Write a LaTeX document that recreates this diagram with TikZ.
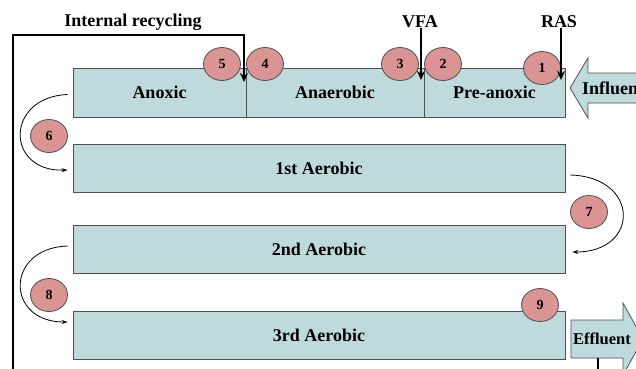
\documentclass[tikz,border=0pt]{standalone}
\usepackage{fontspec}
\setmainfont{Liberation Serif}
\usetikzlibrary{shapes.geometric,arrows.meta}
\definecolor{boxfill}{RGB}{190,218,221}
\definecolor{numfill}{RGB}{218,148,148}
\definecolor{edge}{RGB}{80,80,80}
\begin{document}
\begin{tikzpicture}[x=1pt,y=-1pt,
 tank/.style={draw=edge,line width=0.8pt,fill=boxfill,minimum height=49pt,inner sep=0pt,font=\fontsize{18}{21}\selectfont\bfseries},
 num/.style={ellipse,draw=edge,line width=0.8pt,fill=numfill,minimum width=37pt,minimum height=33pt,inner sep=0pt,font=\fontsize{14}{16}\selectfont\bfseries},
 lbl/.style={font=\fontsize{18}{21}\selectfont\bfseries,inner sep=0pt},
 bigarrow/.style={draw=edge,fill=boxfill,line width=0.8pt},
 feed/.style={-{Stealth[length=9pt,width=8pt]},line width=1.8pt},
 turn/.style={-{Stealth[length=6pt,width=4pt]},line width=0.8pt}]
\useasboundingbox (0,0) rectangle (636,368);
\clip (0,0) rectangle (636,368);
\fill[white] (0,0) rectangle (636,368);
% tanks
\node[tank,minimum width=173pt] (anox) at (159.5,92.5) {Anoxic};
\node[tank,minimum width=178pt] (anae) at (335,92.5) {Anaerobic};
\node[tank,minimum width=141pt] (pre) at (494.5,92.5) {Pre-anoxic};
\node[tank,minimum width=492pt,minimum height=48pt] (a1) at (319,168) {1st Aerobic};
\node[tank,minimum width=492pt,minimum height=48pt] (a2) at (319,249) {2nd Aerobic};
\node[tank,minimum width=492pt,minimum height=48pt] (a3) at (319,335) {3rd Aerobic};
% influent / effluent arrows
\draw[bigarrow] (570,88) -- (588,58) -- (588,73) -- (645,73) -- (645,103) -- (588,103) -- (588,118) -- cycle;
\node[lbl,anchor=west] (infl) at (582,88) {Influent};
\draw[bigarrow] (571,320) -- (623,320) -- (623,303) -- (643,339) -- (623,375) -- (623,358) -- (571,358) -- cycle;
\node[lbl,font=\fontsize{16.5}{19}\selectfont\bfseries] (effl) at (602,339) {Effluent};
\coordinate (effs) at (598,358);
\coordinate (effe) at (598,372);
\draw[line width=1.5pt] (effs) -- (effe);
% numbered points
\node[num] (n1) at (542,68) {1};
\node[num] (n2) at (443,64) {2};
\node[num] (n3) at (400,64) {3};
\node[num] (n4) at (265,64) {4};
\node[num] (n5) at (222,64) {5};
\node[num] (n6) at (49,136) {6};
\node[num] (n7) at (589,212) {7};
\node[num] (n8) at (49,295) {8};
\node[num] (n9) at (540,305) {9};
% top labels and feeds
\node[lbl] (ir) at (133,22) {Internal recycling};
\node[lbl] (vfa) at (420,22) {VFA};
\node[lbl] (ras) at (559,22) {RAS};
\coordinate (vfatip) at (421,80);
\coordinate (rastip) at (561,80);
\draw[feed] (vfa.south -| vfatip) -- (vfatip);
\draw[feed] (ras.south -| rastip) -- (rastip);
\coordinate (irA) at (13,372);
\coordinate (irB) at (13,35);
\coordinate (irC) at (244,35);
\coordinate (irtip) at (244,82);
\draw[feed] (irA) -- (irB) -- (irC) -- (irtip);
% turning flows
\draw[turn] ([shift={(-5,2)}]anox.west) .. controls (5,97) and (5,172) .. ([shift={(-5,2)}]a1.west);
\draw[turn] ([shift={(5,7)}]a1.east) .. controls (640,177) and (640,252) .. ([shift={(7,3)}]a2.east);
\draw[turn] ([shift={(-5,-3)}]a2.west) .. controls (5,248) and (5,322) .. ([shift={(-5,-13)}]a3.west);
\end{tikzpicture}
\end{document}
